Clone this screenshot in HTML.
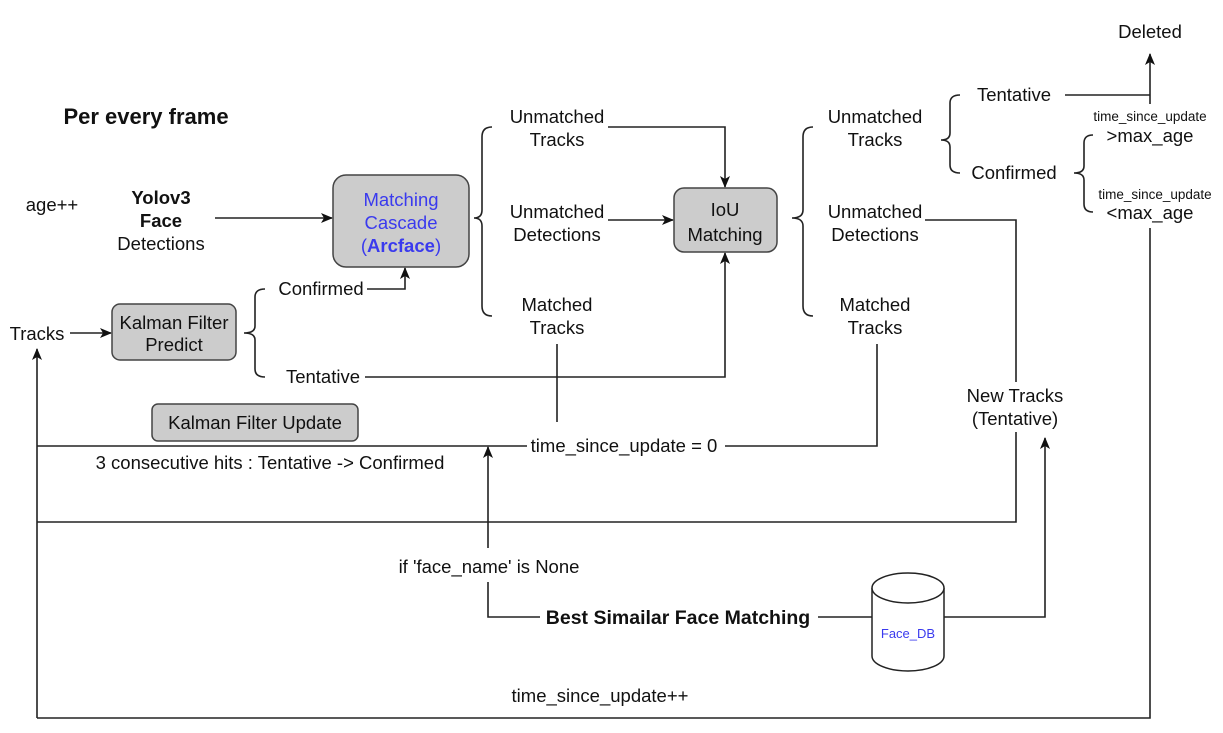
<!DOCTYPE html>
<html><head><meta charset="utf-8"><style>
html,body{margin:0;padding:0;background:#fff;}
svg{display:block;}
text{font-family:"Liberation Sans",Arial,sans-serif;fill:#111;}
</style></head><body>
<svg width="1223" height="733" viewBox="0 0 1223 733" xmlns="http://www.w3.org/2000/svg">
<defs>
<marker id="a" markerWidth="12" markerHeight="12" refX="11" refY="6" orient="auto" markerUnits="userSpaceOnUse">
<path d="M0,1 L12,6 L0,11 L3,6 Z" fill="#111"/></marker>
</defs>
<g fill="none" stroke="#222" stroke-width="1.6">
<line x1="215" y1="218" x2="332" y2="218" marker-end="url(#a)"/>
<line x1="70" y1="333" x2="111" y2="333" marker-end="url(#a)"/>
<polyline points="367,289 405,289 405,268" marker-end="url(#a)"/>
<polyline points="365,377 725,377 725,253" marker-end="url(#a)"/>
<polyline points="608,127 725,127 725,187" marker-end="url(#a)"/>
<line x1="608" y1="220" x2="673" y2="220" marker-end="url(#a)"/>
<line x1="557" y1="344" x2="557" y2="422"/>
<polyline points="527,446 37,446"/>
<polyline points="725,446 877,446 877,344"/>
<line x1="37" y1="718" x2="37" y2="349" marker-end="url(#a)"/>
<polyline points="37,718 1150,718 1150,228"/>
<polyline points="37,522 1016,522 1016,432"/>
<polyline points="925,220 1016,220 1016,382"/>
<line x1="488" y1="548" x2="488" y2="447" marker-end="url(#a)"/>
<polyline points="488,582 488,617 540,617"/>
<line x1="818" y1="617" x2="872" y2="617"/>
<polyline points="944,617 1045,617 1045,438" marker-end="url(#a)"/>
<polyline points="1065,95 1150,95"/>
<line x1="1150" y1="104" x2="1150" y2="54" marker-end="url(#a)"/>
<path d="M492,127 Q482,127 482,137 L482,210 Q482,218 474,218 Q482,218 482,226 L482,306 Q482,316 492,316"/>
<path d="M813,127 Q803,127 803,137 L803,210 Q803,218 792,218 Q803,218 803,226 L803,306 Q803,316 813,316"/>
<path d="M265,289 Q255,289 255,297 L255,326 Q255,333 244,333 Q255,333 255,340 L255,369 Q255,377 265,377"/>
<path d="M960,95 Q950,95 950,103 L950,133 Q950,140 941,140 Q950,140 950,147 L950,165 Q950,173 960,173"/>
<path d="M1093,135 Q1084,135 1084,143 L1084,166 Q1084,173 1074,173 Q1084,173 1084,180 L1084,204 Q1084,212 1093,212"/>
</g>
<g fill="#cccccc" stroke="#444" stroke-width="1.5">
<rect x="333" y="175" width="136" height="92" rx="13"/>
<rect x="674" y="188" width="103" height="64" rx="10"/>
<rect x="112" y="304" width="124" height="56" rx="8"/>
<rect x="152" y="404" width="206" height="37" rx="6"/>
</g>
<g fill="#fff" stroke="#222" stroke-width="1.5">
<path d="M872,588 L872,656 A36,15 0 0 0 944,656 L944,588"/>
<ellipse cx="908" cy="588" rx="36" ry="15"/>
</g>
<g font-size="18.5" text-anchor="middle">
<text x="146" y="124" font-size="22" font-weight="bold">Per every frame</text>
<text x="52" y="211">age++</text>
<text x="161" y="204" font-weight="bold">Yolov3</text>
<text x="161" y="227" font-weight="bold">Face</text>
<text x="161" y="250">Detections</text>
<text x="401" y="206" style="fill:#3a3aee">Matching</text>
<text x="401" y="229" style="fill:#3a3aee">Cascade</text>
<text x="401" y="252" style="fill:#3a3aee">(<tspan font-weight="bold" style="fill:#3a3aee">Arcface</tspan>)</text>
<text x="725" y="216">IoU</text>
<text x="725" y="241">Matching</text>
<text x="174" y="329">Kalman Filter</text>
<text x="174" y="351">Predict</text>
<text x="255" y="429">Kalman Filter Update</text>
<text x="37" y="340">Tracks</text>
<text x="321" y="295">Confirmed</text>
<text x="323" y="383">Tentative</text>
<text x="557" y="123">Unmatched</text>
<text x="557" y="146">Tracks</text>
<text x="557" y="218">Unmatched</text>
<text x="557" y="241">Detections</text>
<text x="557" y="311">Matched</text>
<text x="557" y="334">Tracks</text>
<text x="875" y="123">Unmatched</text>
<text x="875" y="146">Tracks</text>
<text x="875" y="218">Unmatched</text>
<text x="875" y="241">Detections</text>
<text x="875" y="311">Matched</text>
<text x="875" y="334">Tracks</text>
<text x="1014" y="101">Tentative</text>
<text x="1014" y="179">Confirmed</text>
<text x="1150" y="38">Deleted</text>
<text x="1150" y="142">&gt;max_age</text>
<text x="1150" y="219">&lt;max_age</text>
<text x="1150" y="121" font-size="13.5">time_since_update</text>
<text x="1155" y="199" font-size="13.5">time_since_update</text>
<text x="624" y="452">time_since_update = 0</text>
<text x="270" y="469">3 consecutive hits : Tentative -&gt; Confirmed</text>
<text x="1015" y="402">New Tracks</text>
<text x="1015" y="425">(Tentative)</text>
<text x="489" y="573">if 'face_name' is None</text>
<text x="678" y="624" font-weight="bold" font-size="19.5">Best Simailar Face Matching</text>
<text x="908" y="638" font-size="13" style="fill:#3a3aee">Face_DB</text>
<text x="600" y="702">time_since_update++</text>
</g>
</svg>
</body></html>
